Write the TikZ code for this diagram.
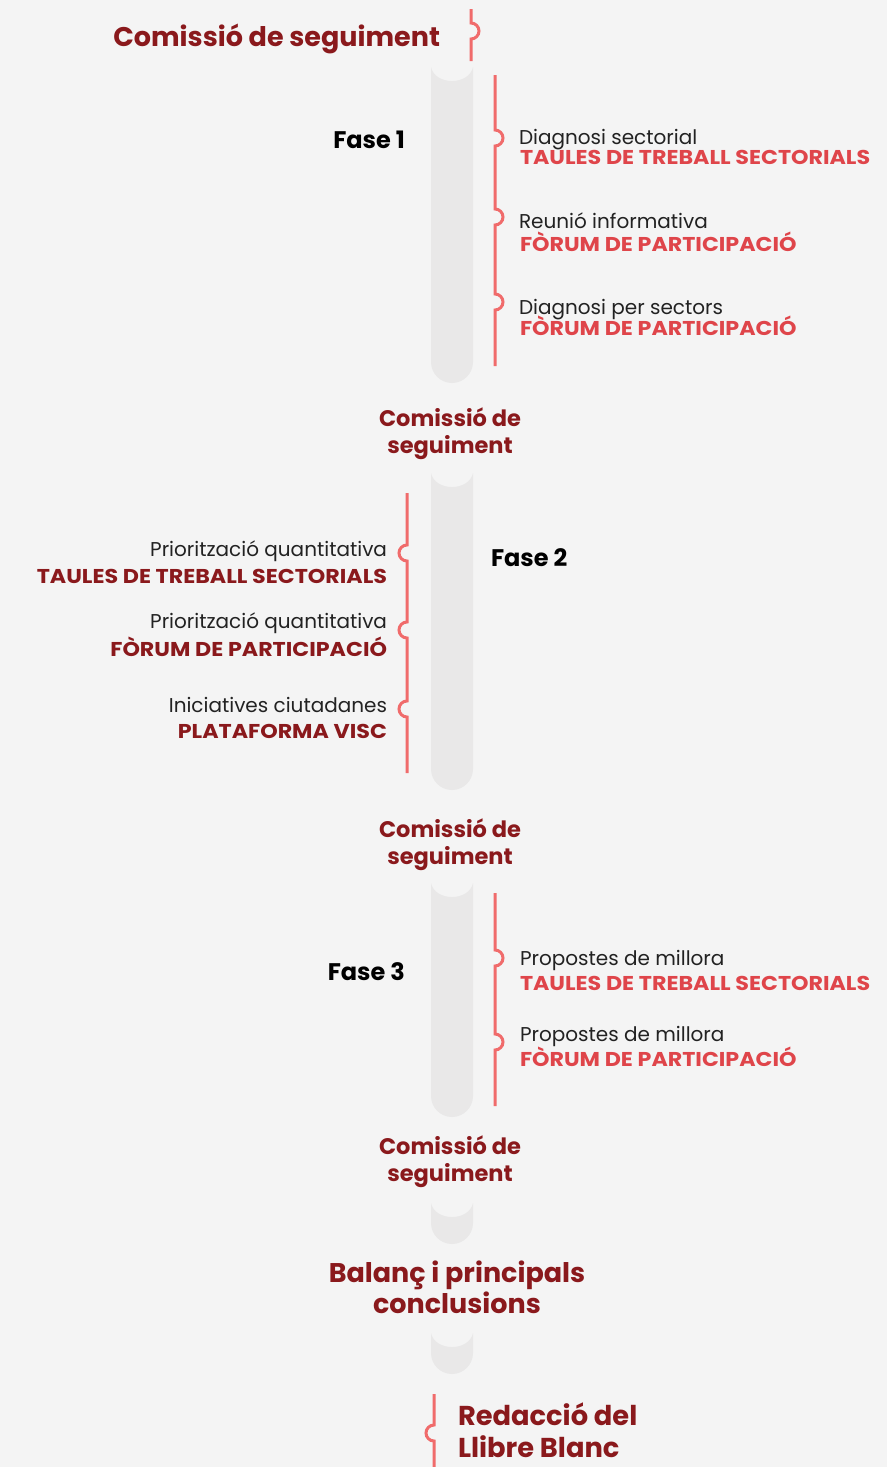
\documentclass[tikz,border=0pt]{standalone}
\usepackage{fontspec}
\setmainfont{Poppins}
\newfontfamily\tagfont{Poppins}[FakeStretch=1.11]
\definecolor{bg}{HTML}{F4F4F4}
\definecolor{barc}{HTML}{E9E8E8}
\definecolor{brk}{HTML}{F06B6B}
\definecolor{dred}{HTML}{8A191C}
\definecolor{bred}{HTML}{DF454A}
\definecolor{txt}{HTML}{222222}
\newcommand\gbar[2]{%
  \fill[barc] (431,#1) .. controls (435,#1+18.7) and (469,#1+18.7) .. (473,#1)
    -- (473,#2-21) .. controls (473,#2-9.4) and (463.6,#2) .. (452,#2)
    .. controls (440.4,#2) and (431,#2-9.4) .. (431,#2-21) -- cycle;}
\newcommand\rbump[2]{-- (#1,#2-8) .. controls (#1+4.4,#2-8) and (#1+8,#2-4.4) .. (#1+8,#2) .. controls (#1+8,#2+4.4) and (#1+4.4,#2+8) .. (#1,#2+8)}
\newcommand\lbump[2]{-- (#1,#2-8) .. controls (#1-4.4,#2-8) and (#1-8,#2-4.4) .. (#1-8,#2) .. controls (#1-8,#2+4.4) and (#1-4.4,#2+8) .. (#1,#2+8)}
\tikzset{
  every node/.style={inner sep=0pt, outer sep=0pt},
  brace/.style={draw=brk, line width=3pt},
  bigtitle/.style={font=\fontsize{27}{30}\selectfont\bfseries, text=dred},
  midtitle/.style={font=\fontsize{22.5}{27}\selectfont\bfseries, text=dred, align=center},
  endtitle/.style={font=\fontsize{27}{31}\selectfont\bfseries, text=dred},
  fase/.style={font=\fontsize{24}{28}\selectfont\bfseries, text=black},
  sub/.style={font=\fontsize{20}{24}\selectfont, text=txt, text height=14.5pt, text depth=4pt},
  tagb/.style={font=\tagfont\fontsize{20}{24}\selectfont\bfseries, text=bred, text height=15pt, text depth=4pt},
  tagd/.style={font=\tagfont\fontsize{20}{24}\selectfont\bfseries, text=dred, text height=15pt, text depth=4pt},
}
\begin{document}
\begin{tikzpicture}[x=1pt,y=-1pt]
\fill[bg] (0,0) rectangle (887,1467);
\useasboundingbox (0,0) rectangle (887,1467);
% bars
\gbar{67}{383}
\gbar{473}{790}
\gbar{883}{1117}
\gbar{1203}{1244}
\gbar{1333}{1374}
% braces
\draw[brace] (471,9) \rbump{471}{31} -- (471,61);
\draw[brace] (495,75) \rbump{495}{138} \rbump{495}{217} \rbump{495}{302} -- (495,366);
\draw[brace] (407,493) \lbump{407}{553} \lbump{407}{630} \lbump{407}{709} -- (407,773);
\draw[brace] (495,893) \rbump{495}{958} \rbump{495}{1042} -- (495,1106);
\draw[brace] (434,1394) \lbump{434}{1433} -- (434,1467);
% titles
\node[bigtitle, anchor=east] (c0) at (440,39) {Comissió de seguiment};
\node[fase, anchor=east] (f1) at (405,140) {Fase 1};
\node[sub, anchor=west] (s11) at (519,139.5) {Diagnosi sectorial};
\node[tagb, anchor=west] (t11) at (520,158.5) {TAULES DE TREBALL SECTORIALS};
\node[sub, anchor=west] (s12) at (519,223) {Reunió informativa};
\node[tagb, anchor=west] (t12) at (520,246) {FÒRUM DE PARTICIPACIÓ};
\node[sub, anchor=west] (s13) at (519,309) {Diagnosi per sectors};
\node[tagb, anchor=west] (t13) at (520,330) {FÒRUM DE PARTICIPACIÓ};
\node[midtitle] (c1) at (450,434) {Comissió de\\seguiment};
\node[fase, anchor=west] (f2) at (491,558) {Fase 2};
\node[sub, anchor=east] (s21) at (387,551) {Priorització quantitativa};
\node[tagd, anchor=east] (t21) at (387,577.5) {TAULES DE TREBALL SECTORIALS};
\node[sub, anchor=east] (s22) at (387,623.5) {Priorització quantitativa};
\node[tagd, anchor=east] (t22) at (387,651) {FÒRUM DE PARTICIPACIÓ};
\node[sub, anchor=east] (s23) at (387,707) {Iniciatives ciutadanes};
\node[tagd, anchor=east] (t23) at (387,733) {PLATAFORMA VISC};
\node[midtitle] (c2) at (450,845) {Comissió de\\seguiment};
\node[fase, anchor=east] (f3) at (405,972) {Fase 3};
\node[sub, anchor=west] (s31) at (520,960) {Propostes de millora};
\node[tagb, anchor=west] (t31) at (520,985) {TAULES DE TREBALL SECTORIALS};
\node[sub, anchor=west] (s32) at (520,1036) {Propostes de millora};
\node[tagb, anchor=west] (t32) at (520,1061) {FÒRUM DE PARTICIPACIÓ};
\node[midtitle] (c3) at (450,1162) {Comissió de\\seguiment};
\node[endtitle, align=center] (bal) at (457,1287) {Balanç i principals\\conclusions};
\node[endtitle, align=left, anchor=west, font=\fontsize{27.3}{32}\selectfont\bfseries] (red) at (458,1430) {Redacció del\\Llibre Blanc};
\end{tikzpicture}
\end{document}
